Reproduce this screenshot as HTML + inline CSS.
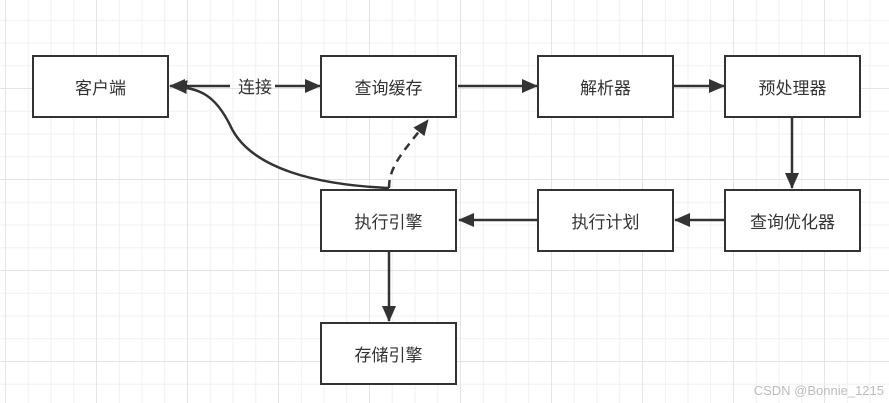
<!DOCTYPE html>
<html><head><meta charset="utf-8"><style>
body{margin:0;width:889px;height:403px;overflow:hidden;background:#fff;
background-image:linear-gradient(#e4e4e4 1px,transparent 1px),linear-gradient(90deg,#e4e4e4 1px,transparent 1px),linear-gradient(#f0f0f0 1px,transparent 1px),linear-gradient(90deg,#f0f0f0 1px,transparent 1px);
background-size:91px 91px,91px 91px,22.75px 22.75px,22.75px 22.75px;background-position:5px -3px,5px -3px,5px -3px,5px -3px;}
.b{position:absolute;box-sizing:border-box;border:2.5px solid #333;background:#fff;width:137px;height:63px;display:flex;align-items:center;justify-content:center;font:17px "Liberation Sans","Noto Sans CJK SC",sans-serif;color:#333}
svg{position:absolute;left:0;top:0}
</style></head><body>
<svg width="889" height="403">
<defs><marker id="a" markerWidth="16" markerHeight="14" refX="15" refY="7" orient="auto" markerUnits="userSpaceOnUse"><path d="M0,0L16,7L0,14z" fill="#333"/></marker></defs>
<g stroke="#333" stroke-width="2.5" fill="none">
<line x1="230" y1="86" x2="170" y2="86" marker-end="url(#a)"/>
<line x1="275" y1="86" x2="320" y2="86" marker-end="url(#a)"/>
<line x1="458" y1="86" x2="537" y2="86" marker-end="url(#a)"/>
<line x1="674" y1="86" x2="724" y2="86" marker-end="url(#a)"/>
<line x1="792" y1="118" x2="792" y2="188" marker-end="url(#a)"/>
<line x1="724" y1="220" x2="675" y2="220" marker-end="url(#a)"/>
<line x1="537" y1="220" x2="459" y2="220" marker-end="url(#a)"/>
<line x1="389" y1="252" x2="389" y2="321" marker-end="url(#a)"/>
<path d="M389,188 C320,185 250,170 230,125 C215,95 200,88 172,86" marker-end="url(#a)"/>
<path d="M389,188 C389,165 405,150 428,120" stroke-dasharray="8,6" marker-end="url(#a)"/>
</g>
<text x="255" y="93" text-anchor="middle" font-family="Liberation Sans,Noto Sans CJK SC,sans-serif" font-size="17" fill="#333">连接</text>
<text x="884" y="395" text-anchor="end" font-family="Liberation Sans,sans-serif" font-size="13" fill="#bbb">CSDN @Bonnie_1215</text>
</svg>
<div class="b" style="left:32px;top:55px">客户端</div>
<div class="b" style="left:320px;top:55px">查询缓存</div>
<div class="b" style="left:537px;top:55px">解析器</div>
<div class="b" style="left:724px;top:55px">预处理器</div>
<div class="b" style="left:320px;top:189px">执行引擎</div>
<div class="b" style="left:537px;top:189px">执行计划</div>
<div class="b" style="left:724px;top:189px">查询优化器</div>
<div class="b" style="left:320px;top:322px">存储引擎</div>
</body></html>
